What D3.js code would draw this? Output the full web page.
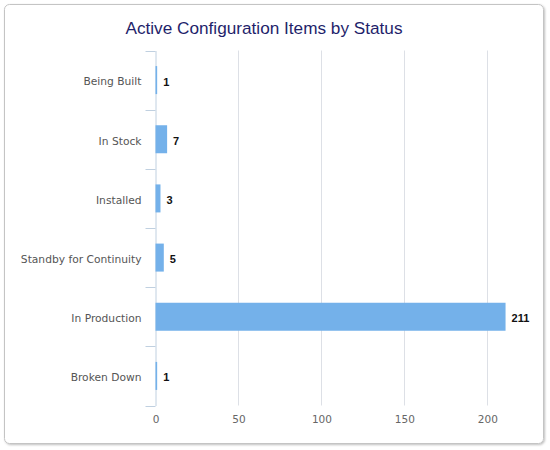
<!DOCTYPE html>
<html>
<head>
<meta charset="utf-8">
<script src="https://cdn.jsdelivr.net/npm/d3@7"></script>
<style>
  body { margin: 0; background: #fff; }
</style>
</head>
<body>
<div id="container"></div>
<script>
const width = 550;
const height = 450;

const categories = ["Being Built", "In Stock", "Installed", "Standby for Continuity", "In Production", "Broken Down"];
const counts = [1, 7, 3, 5, 211, 1];
const xTicks = [0, 50, 100, 150, 200];

const margin = { top: 50.5, right: 30, bottom: 44.5, left: 155.5 };

const svg = d3.select("#container")
  .append("svg")
  .attr("width", width)
  .attr("height", height);

const defs = svg.append("defs");
const shadow = defs.append("filter").attr("id", "shadow")
  .attr("x", "-5%").attr("y", "-5%").attr("width", "110%").attr("height", "110%");
shadow.append("feDropShadow")
  .attr("dx", 1).attr("dy", 1).attr("stdDeviation", 1)
  .attr("flood-color", "#000").attr("flood-opacity", 0.25);

// chart frame
svg.append("rect")
  .attr("x", 4.5).attr("y", 4.5)
  .attr("width", 539).attr("height", 439)
  .attr("rx", 5)
  .attr("fill", "#fff")
  .attr("stroke", "#c4c4c4")
  .attr("filter", "url(#shadow)");

svg.append("text")
  .attr("x", 264)
  .attr("y", 34)
  .attr("text-anchor", "middle")
  .attr("font-family", "Liberation Sans, Arial, sans-serif")
  .attr("font-size", 17.2)
  .attr("fill", "#1f1f6b")
  .text("Active Configuration Items by Status");

const x = d3.scaleLinear()
  .domain([0, 220])
  .range([margin.left, margin.left + 220 * 331.8 / 200]);

const y = d3.scaleBand()
  .domain(categories)
  .range([margin.top, height - margin.bottom]);

// grid lines
svg.append("g")
  .selectAll("line")
  .data(xTicks.slice(1))
  .join("line")
  .attr("x1", d => Math.round(x(d)) + 0.5)
  .attr("x2", d => Math.round(x(d)) + 0.5)
  .attr("y1", margin.top)
  .attr("y2", height - margin.bottom)
  .attr("stroke", "#dde0e6");

// bottom axis labels
const xAxis = svg.append("g")
  .attr("transform", `translate(0,${height - margin.bottom})`)
  .call(d3.axisBottom(x).tickValues(xTicks).tickSize(0).tickPadding(10));
xAxis.select(".domain").remove();
xAxis.selectAll("text")
  .attr("font-family", "DejaVu Sans, sans-serif")
  .attr("font-size", 10.5)
  .attr("fill", "#666");

// category axis
const yAxis = svg.append("g")
  .attr("transform", `translate(${margin.left},0)`)
  .call(d3.axisLeft(y).tickSize(0).tickPadding(14));
yAxis.select(".domain").attr("stroke", "#c0d0e0");
yAxis.selectAll("text")
  .attr("font-family", "DejaVu Sans, sans-serif")
  .attr("font-size", 10.7)
  .attr("dy", "0.5em")
  .attr("fill", "#555");

// category boundary ticks
const bounds = categories.map(c => y(c)).concat([y.range()[1]]);
yAxis.append("g")
  .selectAll("line")
  .data(bounds)
  .join("line")
  .attr("x1", -10).attr("x2", 0)
  .attr("y1", d => Math.round(d) + 0.5)
  .attr("y2", d => Math.round(d) + 0.5)
  .attr("stroke", "#c0d0e0");

const barH = 28;

svg.append("g")
  .selectAll("rect")
  .data(categories)
  .join("rect")
  .attr("x", x(0))
  .attr("y", (d) => y(d) + y.bandwidth() / 2 - barH / 2)
  .attr("width", (d, i) => x(counts[i]) - x(0))
  .attr("height", barH)
  .attr("fill", "#74b1ea");

svg.append("g")
  .selectAll("text")
  .data(categories)
  .join("text")
  .attr("x", (d, i) => x(counts[i]) + 6)
  .attr("y", d => y(d) + y.bandwidth() / 2 + 5.5)
  .attr("font-family", "Liberation Sans, Arial, sans-serif")
  .attr("font-size", 11)
  .attr("font-weight", "bold")
  .attr("fill", "#111")
  .text((d, i) => counts[i]);
</script>
</body>
</html>
